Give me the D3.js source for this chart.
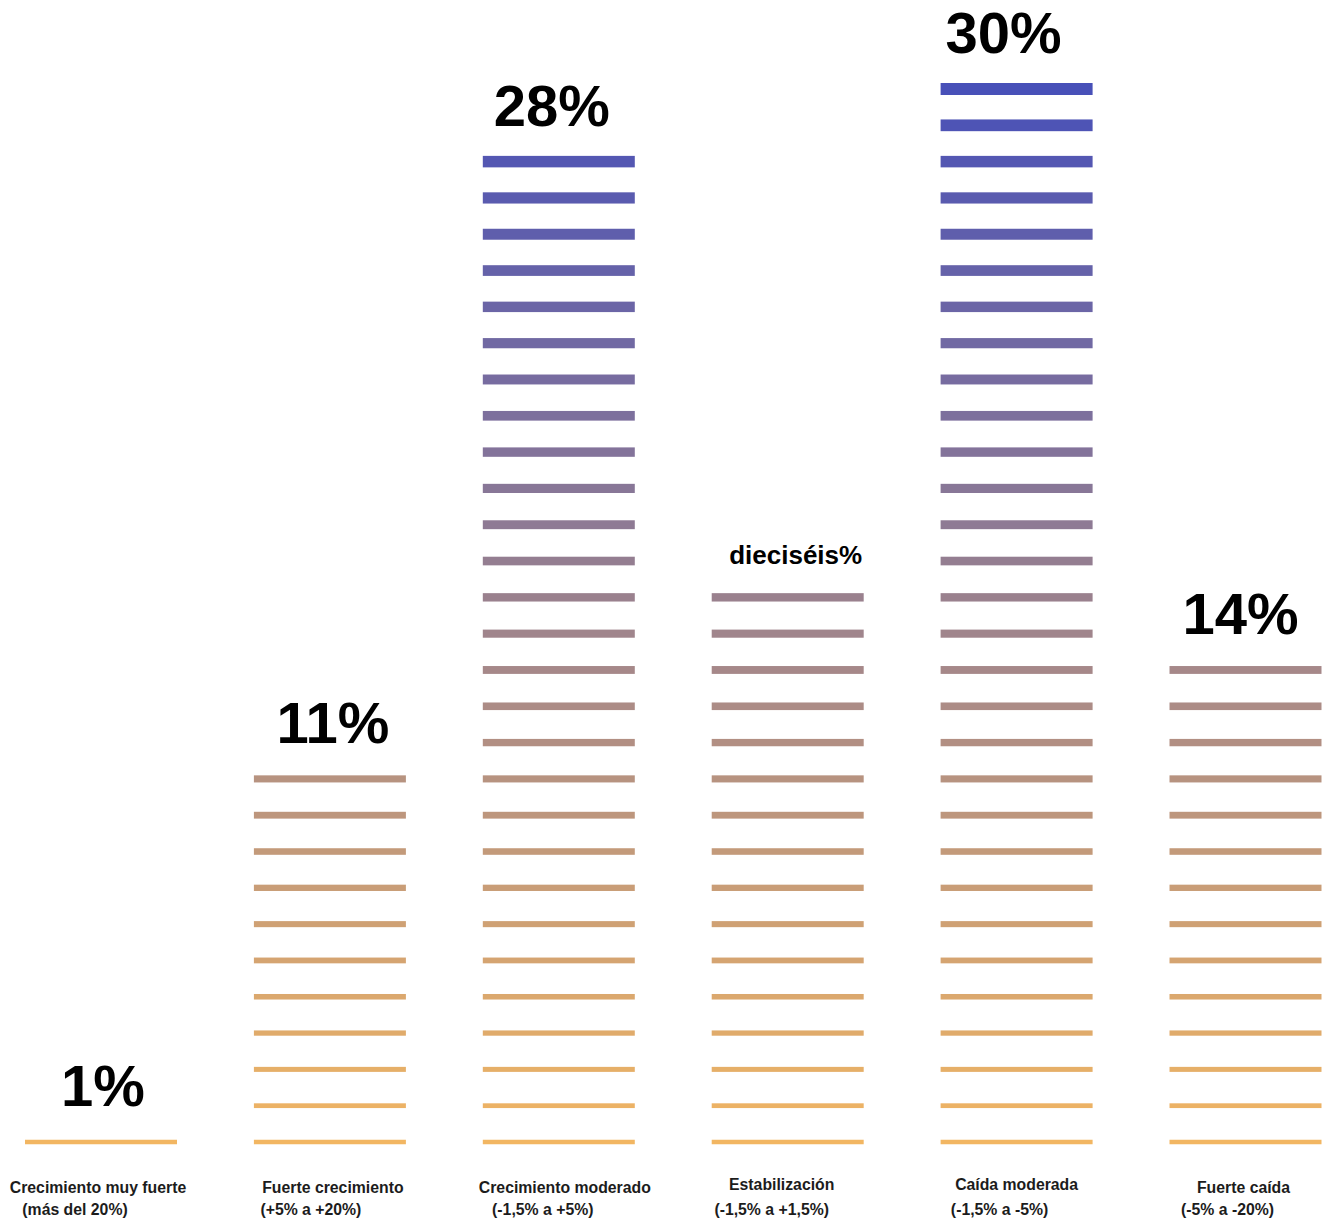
<!DOCTYPE html>
<html>
<head>
<meta charset="utf-8">
<script src="https://cdn.jsdelivr.net/npm/d3@7"></script>
<style>
  html, body { margin: 0; padding: 0; background: #ffffff; }
  svg { display: block; font-family: "Liberation Sans", Arial, Helvetica, sans-serif; }
</style>
</head>
<body>
<svg id="chart" width="1326" height="1218"></svg>
<script>
// Share of cases in each growth band (percent); one stripe per percentage point
const categories = [
  "Crecimiento muy fuerte",
  "Fuerte crecimiento",
  "Crecimiento moderado",
  "Estabilización",
  "Caída moderada",
  "Fuerte caída"
];
const ranges = [
  "(más del 20%)",
  "(+5% a +20%)",
  "(-1,5% a +5%)",
  "(-1,5% a +1,5%)",
  "(-1,5% a -5%)",
  "(-5% a -20%)"
];
const values = [1, 11, 28, 16, 30, 14];
const valueLabels = ["1%", "11%", "28%", "dieciséis%", "30%", "14%"];

// Hand-tuned horizontal nudges for the text (px from column centre)
const valueNudge = [2, 3, -7, 8, -13, -5];
const nameNudge = [-3, 3, 6, -6, 0, -2];
const rangeNudge = [-26, -19, -16, -16, -17, -18];

const W = 1326, H = 1218;
const svg = d3.select("#chart");

const maxLevel = d3.max(values);

// Horizontal placement of the columns
const x = d3.scaleBand()
  .domain(categories)
  .range([25, 1321.5])
  .paddingInner(0.336)
  .paddingOuter(0);

// Vertical placement of each stripe by its level (1 = bottom)
const y = d3.scaleLinear().domain([1, maxLevel]).range([1142, 89]);

// Stripes grow thicker and shift from amber to indigo as they rise
const thickness = d3.scaleLinear().domain([1, maxLevel]).range([4.5, 12]);
const color = d3.scaleLinear()
  .domain([1, maxLevel])
  .range(["#f2b662", "#4850b8"])
  .interpolate(d3.interpolateRgb);

const cols = categories.map((c, i) => ({
  i, cat: c, range: ranges[i], value: values[i], label: valueLabels[i]
}));

const col = svg.selectAll("g.col")
  .data(cols)
  .join("g")
  .attr("class", "col")
  .attr("transform", d => `translate(${x(d.cat)},0)`);

col.selectAll("rect.stripe")
  .data(d => d3.range(1, d.value + 1))
  .join("rect")
  .attr("class", "stripe")
  .attr("x", 0)
  .attr("width", x.bandwidth())
  .attr("y", l => y(l) - thickness(l) / 2)
  .attr("height", l => thickness(l))
  .attr("fill", l => color(l));

const mid = x.bandwidth() / 2;

// Value above each column
col.append("text")
  .attr("x", d => mid + valueNudge[d.i])
  .attr("y", d => y(d.value) - (d.label.length > 4 ? 33 : 36))
  .attr("text-anchor", "middle")
  .attr("font-weight", "bold")
  .attr("font-size", d => d.label.length > 4 ? 26 : 58)
  .attr("fill", "#000")
  .text(d => d.label);

// Category names and their ranges underneath
col.append("text")
  .attr("x", d => mid + nameNudge[d.i])
  .attr("y", d => (d.i === 3 || d.i === 4) ? 1190 : 1193)
  .attr("text-anchor", "middle")
  .attr("font-weight", "bold")
  .attr("font-size", 15.8)
  .attr("fill", "#1c1c1c")
  .text(d => d.cat);

col.append("text")
  .attr("x", d => mid + rangeNudge[d.i])
  .attr("y", 1215)
  .attr("text-anchor", "middle")
  .attr("font-weight", "bold")
  .attr("font-size", 15.8)
  .attr("fill", "#1c1c1c")
  .text(d => d.range);
</script>
</body>
</html>
